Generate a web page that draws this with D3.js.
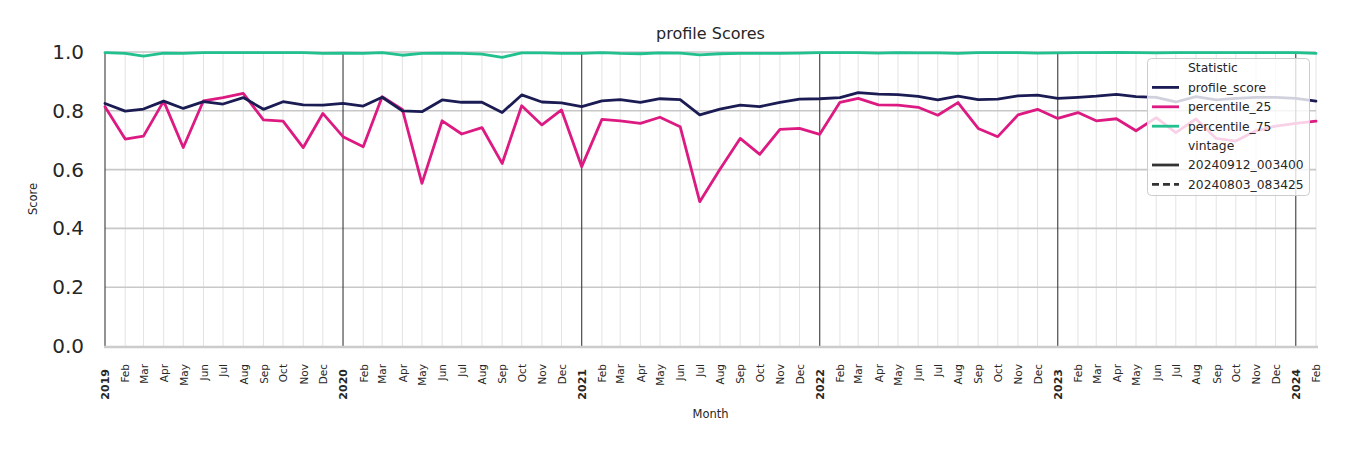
<!DOCTYPE html>
<html><head><meta charset="utf-8">
<script src="https://cdn.jsdelivr.net/npm/d3@7"></script>
<style>body{margin:0;background:#fff}svg{display:block}</style>
</head><body><svg id="c" width="1350" height="450"></svg>
<script>
const months = [
 "2019-01","2019-02","2019-03","2019-04","2019-05","2019-06","2019-07","2019-08","2019-09","2019-10","2019-11","2019-12",
 "2020-01","2020-02","2020-03","2020-04","2020-05","2020-06","2020-07","2020-08","2020-09","2020-10","2020-11","2020-12",
 "2021-01","2021-02","2021-03","2021-04","2021-05","2021-06","2021-07","2021-08","2021-09","2021-10","2021-11","2021-12",
 "2022-01","2022-02","2022-03","2022-04","2022-05","2022-06","2022-07","2022-08","2022-09","2022-10","2022-11","2022-12",
 "2023-01","2023-02","2023-03","2023-04","2023-05","2023-06","2023-07","2023-08","2023-09","2023-10","2023-11","2023-12",
 "2024-01","2024-02"];
const profileScore = [
 0.825,0.799,0.806,0.833,0.808,0.831,0.823,0.845,0.805,0.831,0.820,0.819,
 0.825,0.816,0.846,0.800,0.797,0.837,0.829,0.829,0.794,0.854,0.830,0.827,
 0.814,0.834,0.838,0.829,0.841,0.838,0.786,0.806,0.819,0.814,0.829,0.840,
 0.841,0.845,0.862,0.857,0.855,0.849,0.837,0.850,0.838,0.840,0.851,0.853,
 0.842,0.846,0.850,0.856,0.848,0.846,0.830,0.848,0.837,0.842,0.846,0.846,
 0.842,0.833];
const percentile25 = [
 0.814,0.704,0.714,0.833,0.675,0.834,0.845,0.859,0.769,0.765,0.675,0.791,
 0.712,0.678,0.848,0.805,0.553,0.766,0.721,0.743,0.621,0.817,0.752,0.803,
 0.610,0.771,0.766,0.757,0.778,0.746,0.491,0.601,0.706,0.652,0.737,0.740,
 0.720,0.829,0.842,0.820,0.819,0.812,0.785,0.828,0.740,0.712,0.786,0.805,
 0.774,0.794,0.766,0.773,0.732,0.777,0.726,0.772,0.706,0.697,0.732,0.748,
 0.757,0.765];
const percentile75 = [
 0.998,0.995,0.986,0.996,0.995,0.998,0.998,0.998,0.998,0.998,0.998,0.995,
 0.996,0.995,0.998,0.989,0.995,0.996,0.995,0.993,0.982,0.997,0.997,0.995,
 0.995,0.998,0.995,0.994,0.997,0.996,0.990,0.994,0.995,0.995,0.995,0.996,
 0.998,0.998,0.998,0.996,0.998,0.997,0.997,0.995,0.998,0.998,0.998,0.996,
 0.997,0.998,0.998,0.999,0.998,0.997,0.998,0.998,0.998,0.998,0.998,0.998,
 0.998,0.995];
const seriesNames = ["profile_score","percentile_25","percentile_75"];
const seriesColors = ["#1c1c54","#dc1a82","#22c08f"];
const vintages = ["20240912_003400","20240803_083425"];
const yTicks = [0,0.2,0.4,0.6,0.8,1.0];

(function(){
const svg = d3.select("#c");
const FONT = "DejaVu Sans, sans-serif";
const parse = d3.timeParse("%Y-%m");
const dates = months.map(parse);
const pL = 105, pR = 1316, pT = 52, pB = 346;
const x = d3.scaleTime().domain([dates[0], dates[dates.length-1]]).range([pL, pR]);
const y = d3.scaleLinear().domain([0,1]).range([pB, pT]);

const g = svg.append("g");
g.selectAll(".mg").data(dates.filter(d=>d.getMonth()!==0)).join("line")
 .attr("x1",d=>x(d)).attr("x2",d=>x(d)).attr("y1",pT).attr("y2",pB)
 .attr("stroke","#e3e3e3").attr("stroke-width",1);
g.selectAll(".hg").data(yTicks.filter(v=>v>0)).join("line")
 .attr("x1",pL).attr("x2",pR).attr("y1",d=>y(d)).attr("y2",d=>y(d))
 .attr("stroke","#c8c8c8").attr("stroke-width",1.6);
g.selectAll(".yg").data(dates.filter(d=>d.getMonth()===0)).join("line")
 .attr("x1",d=>x(d)).attr("x2",d=>x(d)).attr("y1",pT).attr("y2",pB)
 .attr("stroke","#3a3a3a").attr("stroke-width",1.1);
svg.append("line").attr("x1",pL-1).attr("x2",pR+2).attr("y1",pB+1).attr("y2",pB+1)
 .attr("stroke","#cccccc").attr("stroke-width",2.5);

const allSeries = [profileScore, percentile25, percentile75];
const line = d3.line().x((d,i)=>x(dates[i])).y(d=>y(d));
[2,1,0].forEach(k=>{
  svg.append("path").datum(allSeries[k]).attr("d",line)
   .attr("fill","none").attr("stroke",seriesColors[k]).attr("stroke-width",2.8)
   .attr("stroke-linejoin","round").attr("stroke-linecap","round");
});

const ya = svg.append("g").attr("transform",`translate(${pL},0)`)
 .call(d3.axisLeft(y).tickValues(yTicks).tickFormat(d3.format(".1f")).tickSize(0).tickPadding(21));
ya.select(".domain").remove();
ya.selectAll("text").attr("font-family",FONT).attr("font-size",20).attr("fill","#262626");

const xa = svg.append("g").attr("transform",`translate(0,${pB})`)
 .call(d3.axisBottom(x).tickValues(dates).tickSize(0)
   .tickFormat(d=>d.getMonth()===0 ? d3.timeFormat("%Y")(d) : d3.timeFormat("%b")(d)));
xa.select(".domain").remove();
xa.selectAll("text")
 .attr("font-family",FONT)
 .attr("font-size",d=>d.getMonth()===0?11:10.5)
 .attr("font-weight",d=>d.getMonth()===0?"bold":"normal")
 .attr("fill","#262626")
 .attr("x",0).attr("y",0).attr("dy","0.36em")
 .attr("text-anchor","end")
 .attr("transform",d=>`translate(0,${d.getMonth()===0?23:18}) rotate(-90)`);

svg.append("text").attr("x",(pL+pR)/2).attr("y",418).attr("text-anchor","middle")
 .attr("font-family",FONT).attr("font-size",11.5).attr("fill","#262626").text("Month");
svg.append("text").attr("transform",`translate(37,${(pT+pB)/2}) rotate(-90)`).attr("text-anchor","middle")
 .attr("font-family",FONT).attr("font-size",11.5).attr("fill","#262626").text("Score");
svg.append("text").attr("x",(pL+pR)/2).attr("y",39).attr("text-anchor","middle")
 .attr("font-family",FONT).attr("font-size",16).attr("fill","#262626").text("profile Scores");

const lg = svg.append("g");
lg.append("rect").attr("x",1147.5).attr("y",58.5).attr("width",162).attr("height",137).attr("rx",4)
 .attr("fill","#ffffff").attr("fill-opacity",0.8).attr("stroke","#cccccc").attr("stroke-width",1);
const rows = [
 {label:"Statistic"},
 {label:seriesNames[0], color:seriesColors[0]},
 {label:seriesNames[1], color:seriesColors[1]},
 {label:seriesNames[2], color:seriesColors[2]},
 {label:"vintage"},
 {label:vintages[0], color:"#333333"},
 {label:vintages[1], color:"#333333", dash:"7,4"}
];
rows.forEach((r,i)=>{
  const cy = 68 + i*19.4;
  if (r.color) lg.append("line").attr("x1",1152).attr("x2",1179).attr("y1",cy).attr("y2",cy)
     .attr("stroke",r.color).attr("stroke-width",2.8).attr("stroke-dasharray",r.dash||null);
  lg.append("text").attr("x",1188).attr("y",cy).attr("dy","0.36em")
    .attr("font-family",FONT).attr("font-size",12.3).attr("fill","#262626").text(r.label);
});
})();
</script></body></html>
